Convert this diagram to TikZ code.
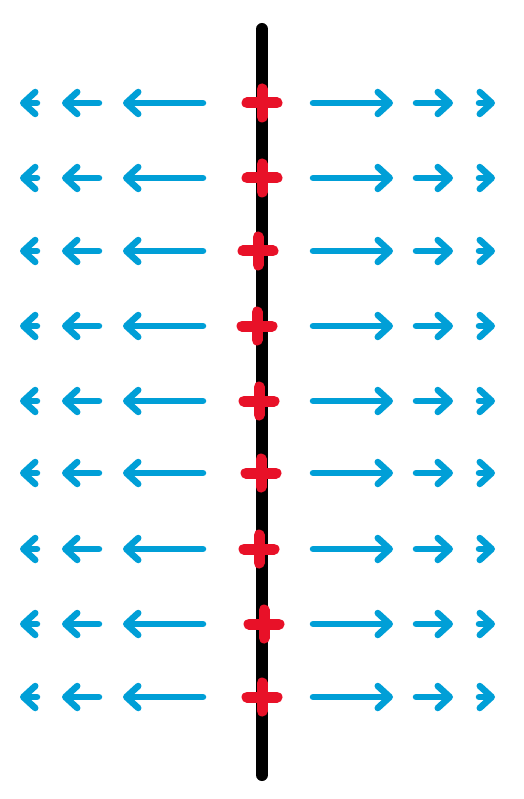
\documentclass[tikz,border=0pt]{standalone}
\usepackage{xcolor}
\usepackage{tikz}
\usetikzlibrary{arrows.meta}
\definecolor{fieldblue}{RGB}{0,159,215}
\definecolor{chargered}{RGB}{232,17,40}
\tikzset{
x=1pt, y=-1pt, % one unit is one pixel of the sketch
sheet/.style={line width=12pt, line cap=round}, % the charged sheet
charge/.style={chargered, line width=11pt, line cap=round}, % the plus signs
field/.style={fieldblue, line width=6.5pt, line cap=round,
  -{Straight Barb[length=12pt, width=22pt, round]}}, % field arrows
}

\begin{document}
\begin{tikzpicture}
    \useasboundingbox (0,0) rectangle (523,799);
    \coordinate (top) at (262,29);
    \coordinate (bottom) at (262,775);
    \draw[sheet] (top) -- (bottom);

    \foreach \y/\dx [count=\i] in {103/0, 178/0, 251/-4, 326/-5, 401/-3, 473/-1, 549/-3, 624/2, 697/0}{
        % charge on the sheet
        \coordinate (q\i) at (262+\dx,\y);
        \draw[charge] ([xshift=-15pt]q\i) -- ([xshift=15pt]q\i)
                      ([yshift=-14pt]q\i) -- ([yshift=14pt]q\i);
        % field to the left
        \coordinate (l1\i) at (203,\y); \coordinate (l2\i) at (123,\y);
        \coordinate (l3\i) at (99,\y);  \coordinate (l4\i) at (62,\y);
        \coordinate (l5\i) at (37,\y);  \coordinate (l6\i) at (20,\y);
        \draw[field] (l1\i) -- (l2\i);
        \draw[field] (l3\i) -- (l4\i);
        \draw[field] (l5\i) -- (l6\i);
        % field to the right
        \coordinate (r1\i) at (313,\y); \coordinate (r2\i) at (393,\y);
        \coordinate (r3\i) at (416,\y); \coordinate (r4\i) at (453,\y);
        \coordinate (r5\i) at (479,\y); \coordinate (r6\i) at (495,\y);
        \draw[field] (r1\i) -- (r2\i);
        \draw[field] (r3\i) -- (r4\i);
        \draw[field] (r5\i) -- (r6\i);
    }
\end{tikzpicture}
\end{document}
